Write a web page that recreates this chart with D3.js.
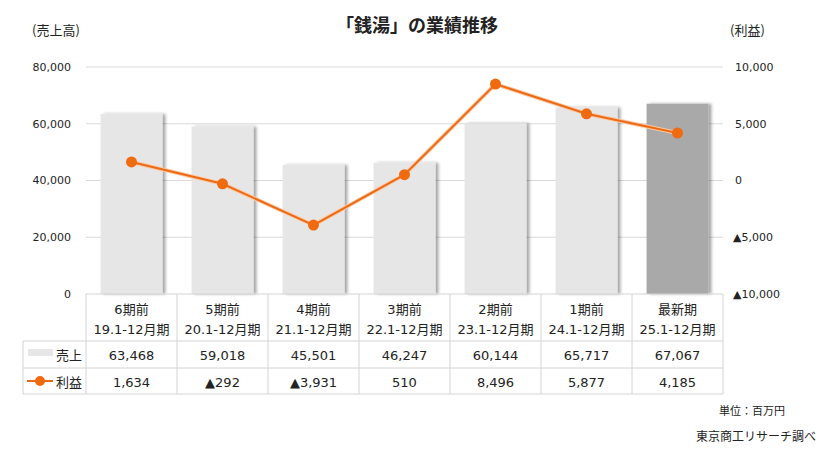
<!DOCTYPE html>
<html>
<head>
<meta charset="utf-8">
<script src="https://cdn.jsdelivr.net/npm/d3@7"></script>
<style>
  body { margin: 0; background: #fff; }
  svg { display: block; }
  text { font-family: "DejaVu Sans", "Noto Sans CJK JP", sans-serif; fill: #222; }
</style>
</head>
<body>
<div id="chart"></div>
<script>
const periods = ["6期前", "5期前", "4期前", "3期前", "2期前", "1期前", "最新期"];
const terms = ["19.1-12月期", "20.1-12月期", "21.1-12月期", "22.1-12月期", "23.1-12月期", "24.1-12月期", "25.1-12月期"];
const sales = [63468, 59018, 45501, 46247, 60144, 65717, 67067];
const profit = [1634, -292, -3931, 510, 8496, 5877, 4185];
const leftTicks = [0, 20000, 40000, 60000, 80000];
const rightTicks = [-10000, -5000, 0, 5000, 10000];

function init() {
    const W = 826, H = 459;
    const left = 86, right = 723, top = 67, bottom = 294;
    const jp = "'Noto Sans CJK JP', sans-serif";

    const svg = d3.select("#chart").append("svg")
        .attr("width", W).attr("height", H);

    const defs = svg.append("defs");
    const f = defs.append("filter").attr("id", "shadow")
        .attr("x", "-10%").attr("y", "-10%").attr("width", "130%").attr("height", "120%");
    f.append("feDropShadow").attr("dx", 3).attr("dy", 0).attr("stdDeviation", 1.5)
        .attr("flood-color", "#000").attr("flood-opacity", 0.35);

    const x = d3.scaleBand().domain(periods).range([left, right]).paddingInner(0.32).paddingOuter(0.16);
    const col = d3.scaleBand().domain(periods).range([left, right]);
    const y = d3.scaleLinear().domain([0, 80000]).range([bottom, top]);
    const y2 = d3.scaleLinear().domain([-10000, 10000]).range([bottom, top]);

    // gridlines
    svg.append("g").selectAll("line").data(leftTicks.slice(1)).join("line")
        .attr("x1", left).attr("x2", right)
        .attr("y1", d => y(d)).attr("y2", d => y(d))
        .attr("stroke", "#d9d9d9").attr("stroke-width", 1);

    // left axis labels
    svg.append("g").selectAll("text").data(leftTicks).join("text")
        .attr("x", 71).attr("y", d => y(d)).attr("dy", "0.35em")
        .attr("text-anchor", "end").attr("font-size", 11)
        .text(d => d3.format(",")(d));

    // right axis labels
    svg.append("g").selectAll("text").data(rightTicks).join("text")
        .attr("x", d => d < 0 ? 733 : 735).attr("y", d => y2(d)).attr("dy", "0.35em")
        .attr("font-size", 11)
        .text(d => d < 0 ? "▲" + d3.format(",")(-d) : d3.format(",")(d));

    // bars
    svg.append("g").selectAll("rect").data(sales).join("rect")
        .attr("x", (d, i) => x(periods[i]))
        .attr("width", x.bandwidth())
        .attr("y", d => y(d))
        .attr("height", d => y(0) - y(d))
        .attr("fill", (d, i) => i === sales.length - 1 ? "#a9a9a9" : "#e6e6e6")
        .attr("filter", "url(#shadow)");

    // profit line
    const cx = i => col(periods[i]) + col.bandwidth() / 2;
    const line = d3.line().x((d, i) => cx(i)).y(d => y2(d));
    svg.append("path").datum(profit)
        .attr("d", line).attr("fill", "none")
        .attr("stroke", "#fbc9a3").attr("stroke-width", 4);
    svg.append("path").datum(profit)
        .attr("d", line).attr("fill", "none")
        .attr("stroke", "#ec6a16").attr("stroke-width", 2);
    svg.append("g").selectAll("circle").data(profit).join("circle")
        .attr("cx", (d, i) => cx(i)).attr("cy", d => y2(d)).attr("r", 5.5)
        .attr("fill", "#f06a10");

    // title and axis names
    svg.append("text").attr("x", 417).attr("y", 26).attr("dy", "0.35em")
        .attr("text-anchor", "middle").attr("font-size", 18).attr("font-weight", "bold")
        .style("font-family", jp)
        .text("「銭湯」の業績推移");
    svg.append("text").attr("x", 32).attr("y", 30).attr("dy", "0.35em")
        .attr("font-size", 13).style("font-family", jp)
        .text("(売上高)");
    svg.append("text").attr("x", 730).attr("y", 30).attr("dy", "0.35em")
        .attr("font-size", 13).style("font-family", jp)
        .text("(利益)");

    // data table
    const rows = [294, 341, 368, 394];
    const tbl = svg.append("g");
    const border = "#d4d4d4";
    tbl.append("line").attr("x1", left).attr("x2", right).attr("y1", rows[0]).attr("y2", rows[0]).attr("stroke", border);
    rows.slice(1).forEach(r => {
        tbl.append("line").attr("x1", 23).attr("x2", right).attr("y1", r).attr("y2", r).attr("stroke", border);
    });
    const vx = periods.map(p => col(p)).concat([right]);
    vx.forEach(v => {
        tbl.append("line").attr("x1", v).attr("x2", v).attr("y1", rows[0]).attr("y2", rows[3]).attr("stroke", border);
    });
    tbl.append("line").attr("x1", 23).attr("x2", 23).attr("y1", rows[1]).attr("y2", rows[3]).attr("stroke", border);

    const cellText = (txt, i, yy) => tbl.append("text")
        .attr("x", cx(i)).attr("y", yy).attr("dy", "0.35em")
        .attr("text-anchor", "middle").attr("font-size", 13).text(txt);

    periods.forEach((p, i) => {
        cellText(p, i, 309);
        cellText(terms[i], i, 329);
        cellText(d3.format(",")(sales[i]), i, 355);
        cellText(profit[i] < 0 ? "▲" + d3.format(",")(-profit[i]) : d3.format(",")(profit[i]), i, 382);
    });

    // legend cells
    tbl.append("rect").attr("x", 28).attr("y", 349).attr("width", 25).attr("height", 7).attr("fill", "#e6e6e6");
    tbl.append("text").attr("x", 82).attr("y", 355).attr("dy", "0.35em").attr("text-anchor", "end")
        .attr("font-size", 13).text("売上");
    tbl.append("line").attr("x1", 27).attr("x2", 53).attr("y1", 381).attr("y2", 381)
        .attr("stroke", "#ec6a16").attr("stroke-width", 2);
    tbl.append("circle").attr("cx", 40).attr("cy", 381).attr("r", 5).attr("fill", "#f06a10");
    tbl.append("text").attr("x", 82).attr("y", 382).attr("dy", "0.35em").attr("text-anchor", "end")
        .attr("font-size", 13).text("利益");

    // footnotes
    svg.append("text").attr("x", 785).attr("y", 411).attr("dy", "0.35em").attr("text-anchor", "end")
        .attr("font-size", 11).style("font-family", jp).text("単位：百万円");
    svg.append("text").attr("x", 816).attr("y", 437).attr("dy", "0.35em").attr("text-anchor", "end")
        .attr("font-size", 12).style("font-family", jp).text("東京商工リサーチ調べ");
}

window.onload = init;
</script>
</body>
</html>
